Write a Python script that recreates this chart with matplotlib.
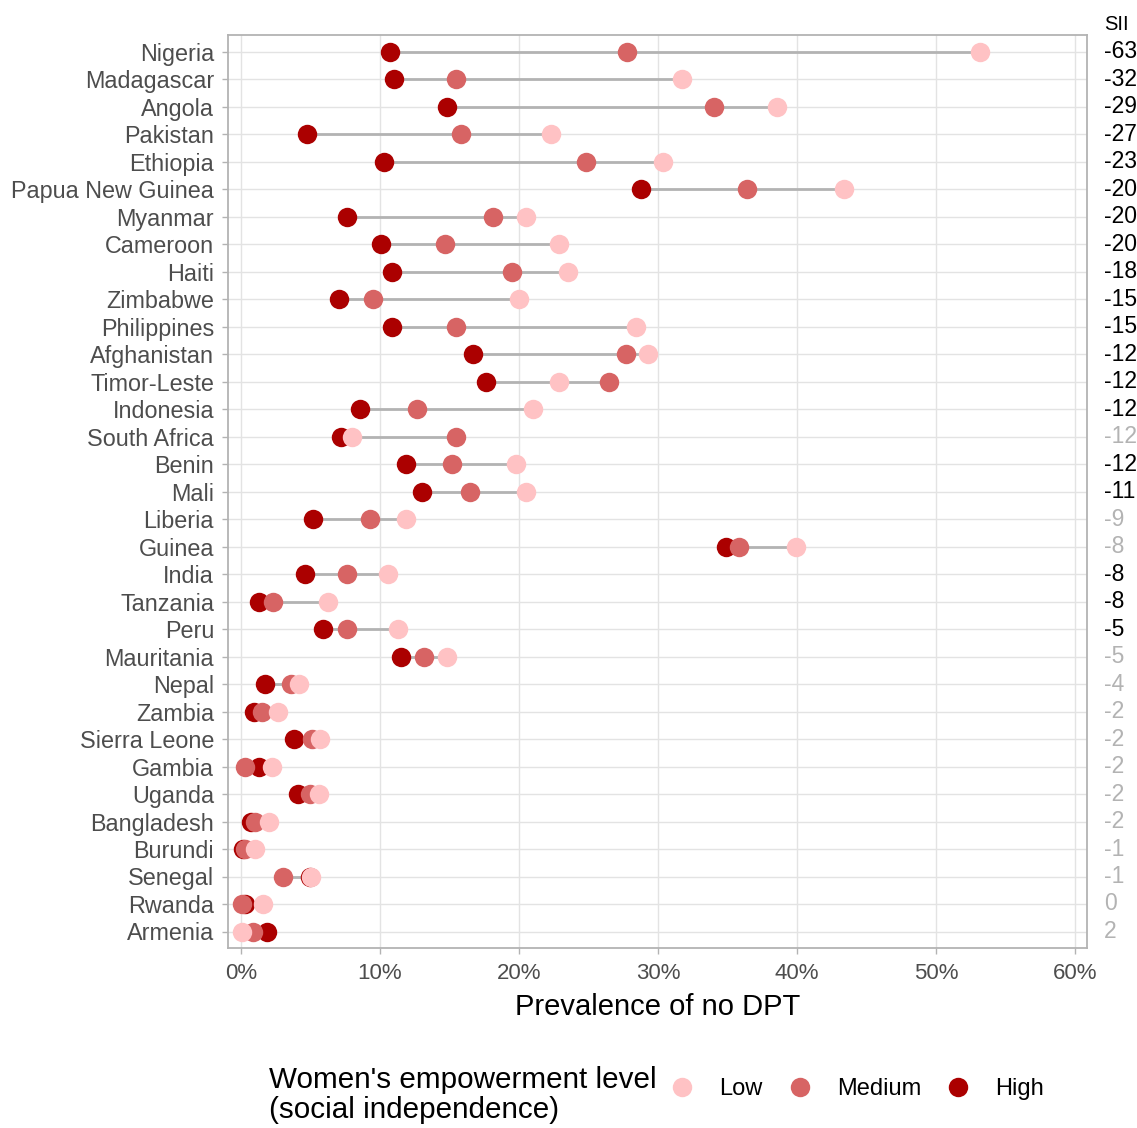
import numpy as np
import matplotlib
matplotlib.use('Agg')
import matplotlib.pyplot as plt
from matplotlib.lines import Line2D

plt.rcParams['font.family'] = ['Liberation Sans', 'DejaVu Sans']

# data, top row first
countries = ['Nigeria', 'Madagascar', 'Angola', 'Pakistan', 'Ethiopia', 'Papua New Guinea',
             'Myanmar', 'Cameroon', 'Haiti', 'Zimbabwe', 'Philippines', 'Afghanistan',
             'Timor-Leste', 'Indonesia', 'South Africa', 'Benin', 'Mali', 'Liberia', 'Guinea',
             'India', 'Tanzania', 'Peru', 'Mauritania', 'Nepal', 'Zambia', 'Sierra Leone',
             'Gambia', 'Uganda', 'Bangladesh', 'Burundi', 'Senegal', 'Rwanda', 'Armenia']
low = [53.2, 31.7, 38.6, 22.3, 30.4, 43.4, 20.5, 22.9, 23.5, 20.0, 28.4, 29.3,
       22.9, 21.0, 8.0, 19.8, 20.5, 11.9, 39.9, 10.6, 6.3, 11.3, 14.8, 4.2, 2.7, 5.7,
       2.2, 5.6, 2.0, 1.0, 5.05, 1.6, 0.05]
medium = [27.8, 15.5, 34.0, 15.8, 24.8, 36.4, 18.1, 14.7, 19.5, 9.5, 15.5, 27.7,
          26.5, 12.7, 15.5, 15.2, 16.5, 9.3, 35.8, 7.6, 2.3, 7.6, 13.2, 3.6, 1.55, 5.1,
          0.27, 5.0, 1.0, 0.3, 3.0, 0.05, 0.85]
high = [10.7, 11.0, 14.8, 4.75, 10.3, 28.8, 7.6, 10.1, 10.9, 7.05, 10.9, 16.7,
        17.6, 8.6, 7.2, 11.9, 13.0, 5.2, 34.9, 4.6, 1.3, 5.9, 11.5, 1.7, 0.95, 3.8,
        1.3, 4.1, 0.75, 0.15, 4.95, 0.3, 1.85]
sii = [-63, -32, -29, -27, -23, -20, -20, -20, -18, -15, -15, -12, -12, -12, -12, -12, -11,
       -9, -8, -8, -8, -5, -5, -4, -2, -2, -2, -2, -2, -1, -1, 0, 2]
sii_signif = [True] * 14 + [False, True, True, False, False, True, True, True,
                            False, False, False, False, False, False, False, False, False, False, False]

col_low = '#ffc2c4'
col_med = '#d76464'
col_high = '#ab0000'

n = len(countries)
ypos = np.arange(n)[::-1]

fig = plt.figure(figsize=(11.37, 11.28), dpi=100)
ax = fig.add_axes([228 / 1137, 1 - 948 / 1128, (1087 - 228) / 1137, (948 - 35) / 1128])

lo = np.minimum(np.minimum(low, medium), high)
hi = np.maximum(np.maximum(low, medium), high)
ax.hlines(ypos, lo, hi, color='#b3b3b3', linewidth=2, zorder=2)

ms = 14
ax.plot(high, ypos, 'o', color=col_high, markersize=ms, markeredgewidth=0, zorder=3)
ax.plot(medium, ypos, 'o', color=col_med, markersize=ms, markeredgewidth=0, zorder=4)
ax.plot(low, ypos, 'o', color=col_low, markersize=ms, markeredgewidth=0, zorder=5)

ax.set_xlim(-0.93, 60.87)
ax.set_ylim(-0.6, n - 1 + 0.6)
ax.set_xticks(np.arange(0, 61, 10))
ax.set_xticklabels([str(v) + '%' for v in range(0, 61, 10)], fontsize=16, color='#4d4d4d')
ax.set_yticks(ypos)
ax.set_yticklabels(countries, fontsize=16.8, color='#4d4d4d')
ax.tick_params(axis='both', color='#b3b3b3', length=4, width=1)
ax.tick_params(axis='y', pad=6)
ax.tick_params(axis='x', pad=6.5)
ax.grid(True, color='#e3e3e3', linewidth=1, zorder=0)
ax.set_axisbelow(True)
for s in ax.spines.values():
    s.set_color('#b3b3b3')
    s.set_linewidth(1.3)

ax.set_xlabel('Prevalence of no DPT', fontsize=21, color='black', labelpad=7)

# SII labels on the right
tr = ax.get_yaxis_transform()
for y, v, sg in zip(ypos, sii, sii_signif):
    ax.text(1.0195, y, str(v), transform=tr, ha='left', va='center', fontsize=16.5,
            color='black' if sg else '#b3b3b3', clip_on=False)
ax.text(1.0195, n - 1 + 1.0, 'SII', transform=tr, ha='left', va='center', fontsize=14.5,
        color='black', clip_on=False)

# legend
fig.text(269 / 1137, 1 - 1095 / 1128, "Women's empowerment level\n(social independence)",
         ha='left', va='center', fontsize=21.3, linespacing=1.05)
handles = [Line2D([], [], marker='o', linestyle='none', color=c, markersize=ms, markeredgewidth=0)
           for c in [col_low, col_med, col_high]]
fig.legend(handles, ['Low', 'Medium', 'High'], loc='center left',
           bbox_to_anchor=(649 / 1137, 1 - 1089 / 1128), ncol=3, frameon=False, fontsize=17,
           handlelength=1.0, handletextpad=1.07, columnspacing=1.08)

plt.savefig('out.png', dpi=100)
